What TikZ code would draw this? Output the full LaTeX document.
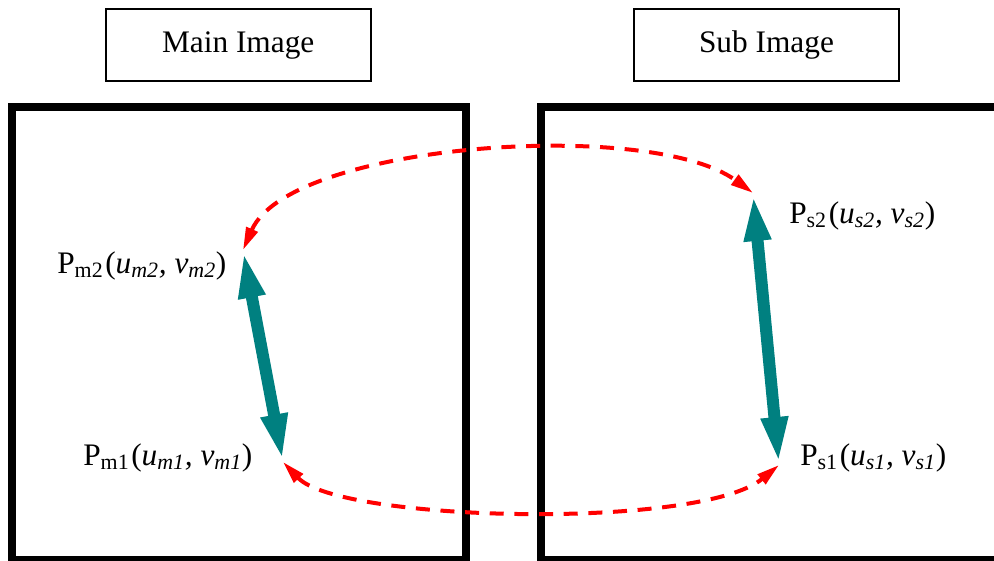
\documentclass[tikz,border=0pt]{standalone}
\usepackage{fontspec}
\setmainfont{Liberation Serif}
\usetikzlibrary{arrows.meta}
\definecolor{tealarrow}{RGB}{0,128,128}
\definecolor{reddash}{RGB}{255,0,0}
\newcommand{\ptgap}{\kern0.06em}
\begin{document}
\begin{tikzpicture}[x=0.75pt,y=-0.75pt,
  titlebox/.style={draw, line width=1.3pt, minimum width=198.75pt, minimum height=53.8pt,
    inner sep=0pt, font=\fontsize{23.5}{28}\selectfont},
  frame/.style={draw, line width=6pt},
  ptlabel/.style={anchor=base west, inner sep=0pt, font=\fontsize{23.5}{28}\selectfont},
  pairlink/.style={tealarrow, line width=9pt,
    {Triangle[width=18pt,length=36pt]}-{Triangle[width=18pt,length=36pt]}},
  matchlink/.style={reddash, line width=3pt, dash pattern=on 10.5pt off 8pt,
    {Triangle[width=9pt,length=17pt]}-{Triangle[width=9pt,length=17pt]}}
]
\clip (0,0) rectangle (994,560);

% titles
\node[titlebox] (maintitle) at (238.2,45.2) {Main Image};
\node[titlebox] (subtitle) at (766.5,45.2) {Sub Image};

% image frames
\draw[frame] (11.5,107) rectangle (465.5,560);
\draw[frame] (540.5,107) rectangle (1000,560);

% feature points
\coordinate (pm2) at (243,250);
\coordinate (pm1) at (283,462);
\coordinate (ps2) at (753,193);
\coordinate (ps1) at (779,465);

% point labels
\node[ptlabel] (lm2) at (57,273) {P\textsubscript{m2}\ptgap(\textit{u\textsubscript{m2}, v\textsubscript{m2}})};
\node[ptlabel] (lm1) at (83,465) {P\textsubscript{m1}\ptgap(\textit{u\textsubscript{m1}, v\textsubscript{m1}})};
\node[ptlabel] (ls2) at (789,223) {P\textsubscript{s2}\ptgap(\textit{u\textsubscript{s2}, v\textsubscript{s2}})};
\node[ptlabel] (ls1) at (800,465) {P\textsubscript{s1}\ptgap(\textit{u\textsubscript{s1}, v\textsubscript{s1}})};

% point pairs within each image
\draw[pairlink] (pm1) -- (pm2);
\draw[pairlink] (ps1) -- (ps2);

% correspondences between the images
\draw[matchlink] (pm2) .. controls (290,143) and (650,118) .. (ps2);
\draw[matchlink] (pm1) .. controls (340,522) and (700,530) .. (ps1);
\end{tikzpicture}
\end{document}
